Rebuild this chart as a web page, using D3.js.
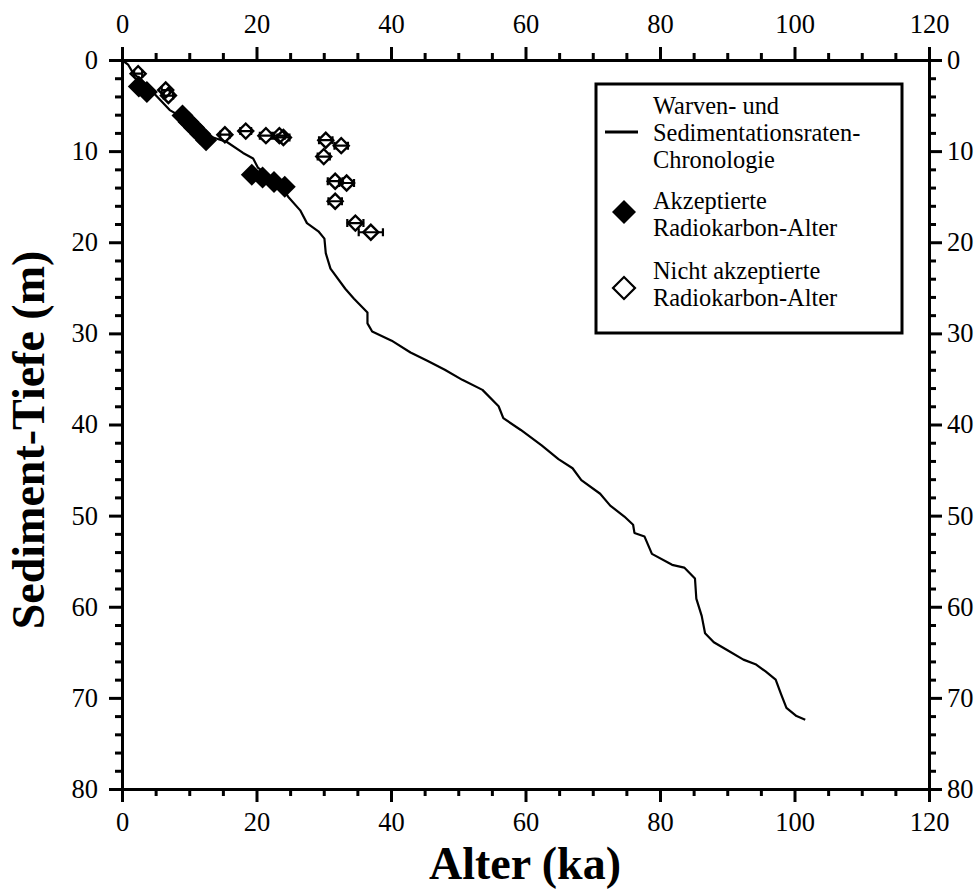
<!DOCTYPE html>
<html>
<head>
<meta charset="utf-8">
<script src="https://cdn.jsdelivr.net/npm/d3@7"></script>
<style>
  body { margin: 0; background: #fff; }
</style>
</head>
<body>
<svg id="chart" width="979" height="891"></svg>
<script>
const serif = "'Liberation Serif', 'Times New Roman', Times, serif";

// Warven-/Sedimentationsraten-Chronologie (Alter ka, Tiefe m)
const chronAge   = [0, 0.9, 1.7, 3.0, 5.2, 7.1, 9.0, 11.0, 13.1, 15.6, 18.0, 19.5, 20.2, 22.0, 23.5, 24.7, 26.5, 27.5, 29.2, 30.1, 30.3, 31.0, 33.2, 34.5, 36.5, 36.5, 37.2, 40.1, 42.9, 45.4, 48.0, 50.6, 53.6, 56.0, 56.7, 59.3, 62.4, 64.9, 67.0, 68.3, 71.1, 72.6, 74.7, 76.0, 76.2, 77.7, 78.8, 81.8, 83.6, 85.2, 85.4, 86.2, 86.7, 88.0, 90.1, 92.4, 94.2, 95.7, 97.2, 98.0, 98.8, 100.3, 101.6];
const chronDepth = [0, 0.5, 1.5, 2.3, 4.0, 5.5, 6.3, 7.3, 8.4, 9.0, 10.2, 10.8, 11.8, 12.8, 13.6, 15.0, 16.5, 17.9, 18.8, 19.6, 21.2, 22.9, 25.1, 26.2, 27.7, 28.9, 29.8, 30.8, 32.1, 33.0, 34.0, 35.1, 36.2, 38.0, 39.3, 40.6, 42.3, 43.8, 44.8, 46.1, 47.6, 48.9, 50.1, 51.0, 51.9, 52.3, 54.2, 55.4, 55.7, 56.9, 59.1, 61.0, 62.9, 63.9, 64.8, 65.8, 66.3, 67.1, 68.0, 69.6, 71.1, 72.0, 72.4];

// akzeptierte Radiokarbon-Alter
const accAge   = [2.5, 3.7, 9.0, 9.9, 10.7, 11.6, 12.5, 19.3, 20.9, 22.6, 24.2];
const accDepth = [2.9, 3.5, 6.1, 6.8, 7.4, 8.1, 8.8, 12.6, 12.9, 13.4, 13.9];

// nicht akzeptierte Radiokarbon-Alter (mit Fehler in ka)
const rejAge   = [2.4, 6.5, 6.9, 15.3, 18.4, 21.4, 23.4, 24.0, 30.3, 32.6, 30.0, 31.7, 33.4, 31.7, 34.7, 37.0];
const rejDepth = [1.5, 3.3, 3.9, 8.2, 7.8, 8.3, 8.3, 8.5, 8.8, 9.4, 10.6, 13.3, 13.5, 15.5, 17.9, 18.9];
const rejErr   = [0.6, 0.6, 0.7, 0.7, 0.8, 0.9, 0.8, 0.9, 1.0, 1.0, 0.9, 1.1, 1.1, 1.0, 1.2, 1.8];

const xMajor = [0, 20, 40, 60, 80, 100, 120];
const yMajor = [0, 10, 20, 30, 40, 50, 60, 70, 80];
const legendLabels = [
  ["Warven- und", "Sedimentationsraten-", "Chronologie"],
  ["Akzeptierte", "Radiokarbon-Alter"],
  ["Nicht akzeptierte", "Radiokarbon-Alter"]
];

const svg = d3.select("#chart");
const x = d3.scaleLinear().domain([0, 120]).range([122, 929]);
const y = d3.scaleLinear().domain([0, 80]).range([60, 789]);

const xMinor = d3.range(0, 121, 5).filter(v => v % 20 !== 0);
const yMinor = d3.range(0, 81, 2).filter(v => v % 10 !== 0);

function styleAxis(g) {
  g.attr("font-family", serif);
  g.select(".domain").attr("stroke-width", 3).attr("stroke-linecap", "square");
  g.selectAll(".tick line").attr("stroke-width", 3);
  g.selectAll(".tick text")
    .style("font-family", serif)
    .style("font-size", "26.5px")
    .attr("fill", "#000");
}

// axes: major ticks with labels, minor ticks without, all pointing outward
const axes = [
  [d3.axisBottom, x, xMajor, xMinor, "translate(0,789)", 10],
  [d3.axisTop, x, xMajor, xMinor, "translate(0,60)", 14],
  [d3.axisLeft, y, yMajor, yMinor, "translate(122,0)", 11],
  [d3.axisRight, y, yMajor, yMinor, "translate(929,0)", 5]
];
axes.forEach(([fn, sc, maj, min, tr, pad]) => {
  svg.append("g").attr("transform", tr)
    .call(fn(sc).tickValues(min).tickSize(7).tickSizeOuter(0).tickFormat(""))
    .call(styleAxis);
  svg.append("g").attr("transform", tr)
    .call(fn(sc).tickValues(maj).tickSize(13).tickSizeOuter(0).tickPadding(pad).tickFormat(d3.format("d")))
    .call(styleAxis);
});

// chronology line
const line = d3.line().x(d => x(d[0])).y(d => y(d[1]));
svg.append("path")
  .datum(chronAge.map((a, i) => [a, chronDepth[i]]))
  .attr("d", line)
  .attr("fill", "none")
  .attr("stroke", "#000")
  .attr("stroke-width", 2.2)
  .attr("stroke-linejoin", "round");

// diamond = square rotated 45deg, size = 2*h^2 for half diagonal h
const diamond = h => d3.symbol(d3.symbolSquare, 2 * h * h)();

svg.append("g").selectAll("path")
  .data(accAge.map((a, i) => [a, accDepth[i]]))
  .join("path")
  .attr("d", diamond(11))
  .attr("transform", d => `translate(${x(d[0])},${y(d[1])}) rotate(45)`)
  .attr("fill", "#000");

const rej = rejAge.map((a, i) => ({a, d: rejDepth[i], e: rejErr[i]}));
const rg = svg.append("g");
rg.selectAll("path.sym")
  .data(rej)
  .join("path")
  .attr("class", "sym")
  .attr("d", diamond(7.5))
  .attr("transform", d => `translate(${x(d.a)},${y(d.d)}) rotate(45)`)
  .attr("fill", "none")
  .attr("stroke", "#000")
  .attr("stroke-width", 2.4);
rg.selectAll("path.err")
  .data(rej)
  .join("path")
  .attr("class", "err")
  .attr("d", d => {
    const x0 = x(d.a - d.e), x1 = x(d.a + d.e), yy = y(d.d);
    return `M${x0},${yy}H${x1}M${x0},${yy - 4}V${yy + 4}M${x1},${yy - 4}V${yy + 4}`;
  })
  .attr("fill", "none")
  .attr("stroke", "#000")
  .attr("stroke-width", 2.2);

// legend
const lg = svg.append("g");
lg.append("rect")
  .attr("x", 596).attr("y", 84).attr("width", 306).attr("height", 249)
  .attr("fill", "#fff").attr("stroke", "#000").attr("stroke-width", 3);
lg.append("line")
  .attr("x1", 605).attr("x2", 638).attr("y1", 132).attr("y2", 132)
  .attr("stroke", "#000").attr("stroke-width", 3);
lg.append("path").attr("d", diamond(12))
  .attr("transform", "translate(624,212) rotate(45)").attr("fill", "#000");
lg.append("path").attr("d", diamond(11))
  .attr("transform", "translate(624,288) rotate(45)")
  .attr("fill", "#fff").attr("stroke", "#000").attr("stroke-width", 2.2);

const firstBase = [114, 209, 279];
const lineGap = 27.2;
legendLabels.forEach((lines, i) => {
  lines.forEach((t, j) => {
    lg.append("text")
      .attr("x", 653).attr("y", firstBase[i] + j * lineGap)
      .style("font-family", serif)
      .style("font-size", "24.4px")
      .attr("fill", "#000")
      .text(t);
  });
});

// axis titles
svg.append("text")
  .attr("x", 525).attr("y", 879)
  .attr("text-anchor", "middle")
  .style("font-family", serif)
  .style("font-size", "46px").style("font-weight", "bold")
  .text("Alter (ka)");
svg.append("text")
  .attr("transform", "translate(44,440) rotate(-90)")
  .attr("text-anchor", "middle")
  .style("font-family", serif)
  .style("font-size", "46px").style("font-weight", "bold")
  .text("Sediment-Tiefe (m)");
</script>
</body>
</html>
